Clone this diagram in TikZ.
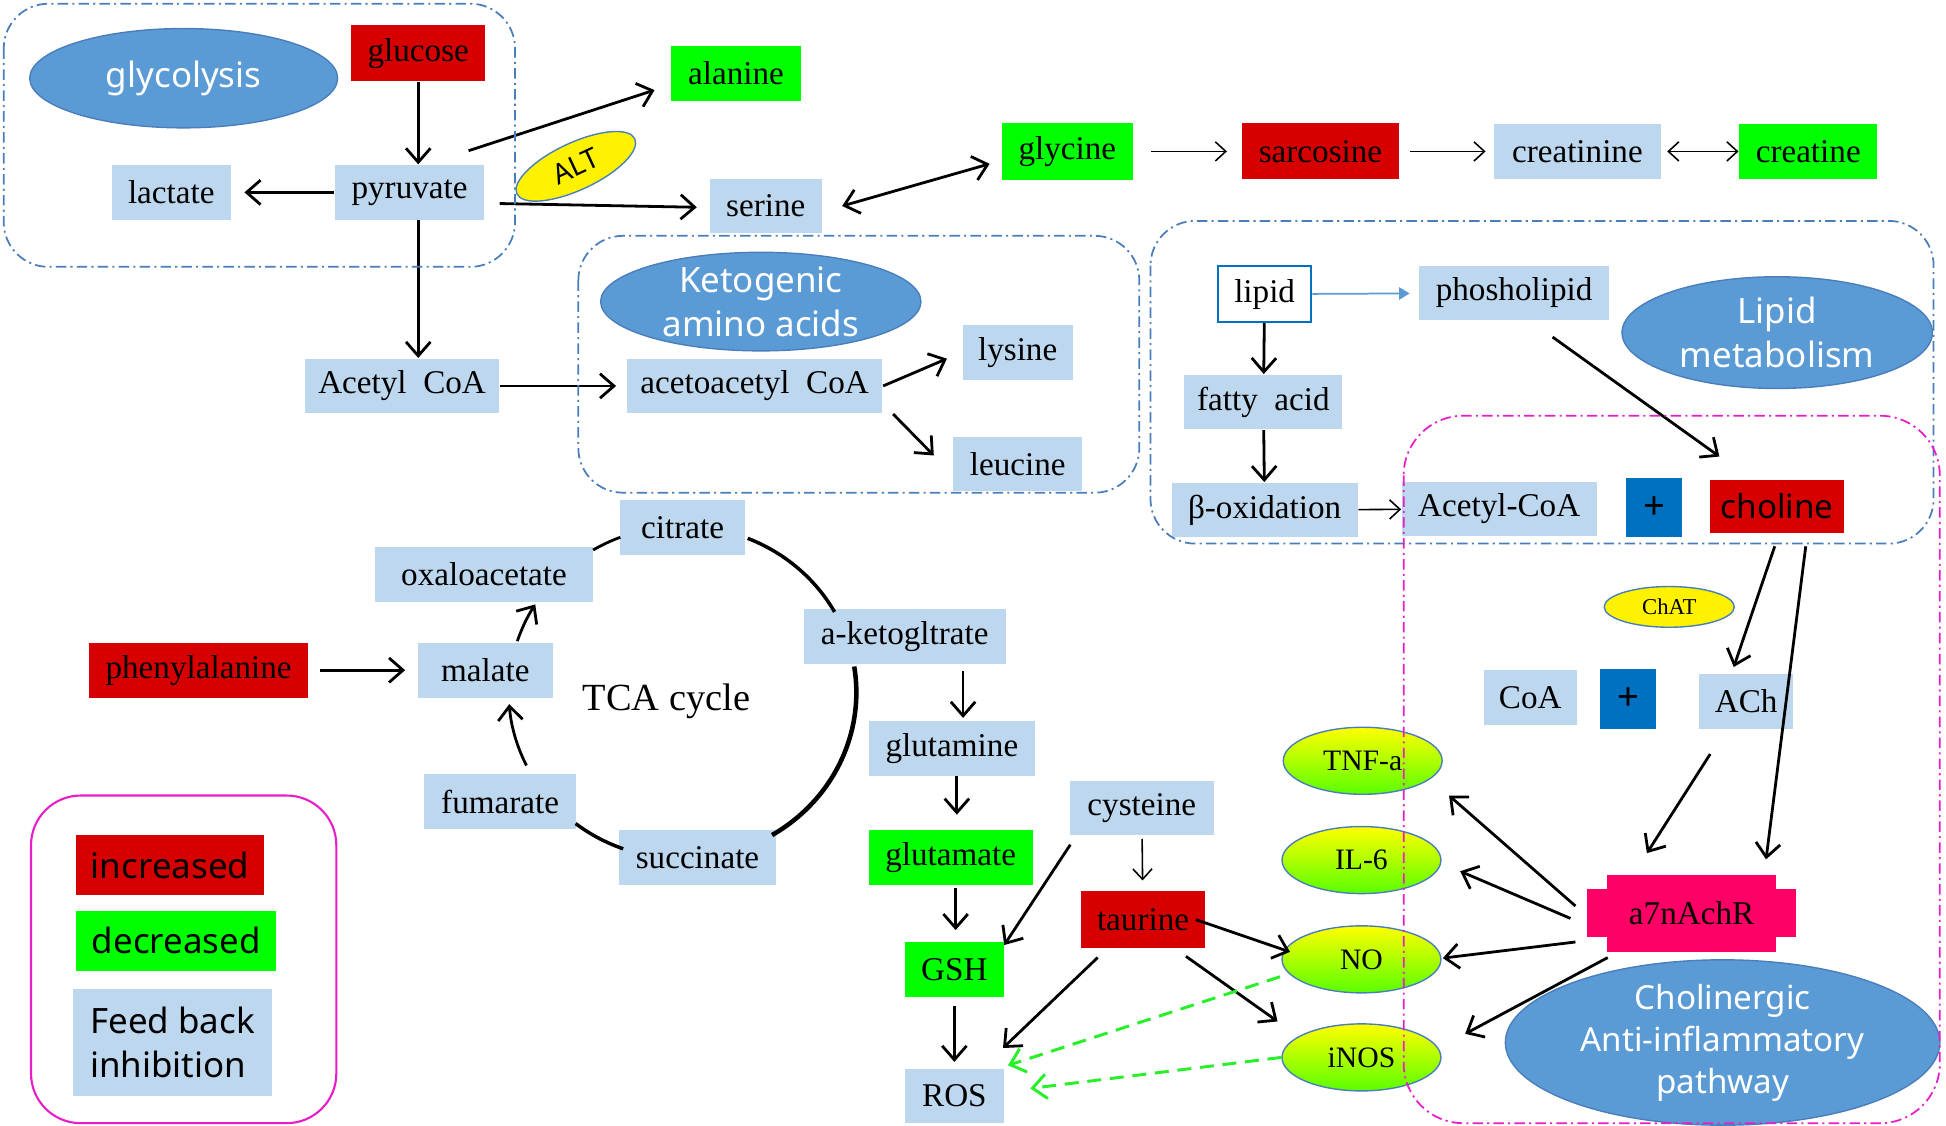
\documentclass[tikz,border=0pt]{standalone}
\usepackage{fontspec}
\setmainfont{Liberation Serif}
\newfontfamily\yahei{Noto Sans}
\usepackage{xcolor}
\usepackage{tikz}
\usetikzlibrary{shapes.geometric,arrows.meta}

\definecolor{upred}{RGB}{214,0,0}
\definecolor{downgreen}{RGB}{0,255,0}
\definecolor{feedblue}{RGB}{189,215,238}
\definecolor{ovalblue}{RGB}{91,155,213}
\definecolor{plusblue}{RGB}{0,112,192}
\definecolor{framegray}{RGB}{74,126,187}
\definecolor{framepink}{RGB}{232,28,200}
\definecolor{receptor}{RGB}{255,0,102}
\definecolor{dashgreen}{RGB}{40,240,40}
\definecolor{cytogreen}{RGB}{90,255,0}

\begin{document}
\begin{tikzpicture}[
  x=0.0125cm, y=-0.0125cm,
  box/.style={
    rectangle,
    fill=feedblue,
    minimum height=0.55cm,
    inner sep=0pt,
    font=\fontsize{9.5}{11}\selectfont
  },
  incbox/.style={box, fill=upred},
  decbox/.style={box, fill=downgreen},
  plusbox/.style={rectangle, fill=plusblue, minimum width=0.5625cm, minimum height=0.6cm, inner sep=0pt, font=\yahei\fontsize{11}{12}\selectfont},
  oval/.style={
    ellipse,
    fill=ovalblue,
    draw=framegray,
    line width=0.4pt,
    inner sep=0pt,
    text=white,
    align=center,
    font=\yahei\fontsize{10}{12.5}\selectfont
  },
  cyto/.style={ellipse, draw=framegray, top color=yellow, bottom color=cytogreen, minimum width=1.6cm, minimum height=0.675cm, inner sep=0pt, font=\fontsize{8.5}{10}\selectfont},
  enzyme/.style={ellipse, fill=yellow, draw=framegray, inner sep=0pt},
  legendbox/.style={font=\yahei\fontsize{10}{12.4}\selectfont, inner sep=0pt},
  arrow/.style={-{Straight Barb[length=4pt,width=7pt]}, line width=0.8pt},
  twoway/.style={{Straight Barb[length=4pt,width=7pt]}-{Straight Barb[length=4pt,width=7pt]}, line width=0.8pt},
  thinarrow/.style={-{Straight Barb[length=3pt,width=5.5pt]}, line width=0.45pt},
  thintwoway/.style={{Straight Barb[length=3pt,width=5.5pt]}-{Straight Barb[length=3pt,width=5.5pt]}, line width=0.45pt},
  bluearrow/.style={-{Triangle[length=3pt,width=3.5pt]}, draw=ovalblue, fill=ovalblue, line width=0.5pt},
  inhibit/.style={-{Straight Barb[length=4pt,width=7pt]}, draw=dashgreen, line width=0.85pt, dash pattern=on 4pt off 2.5pt},
  region/.style={draw=framegray, line width=0.5pt, dash pattern=on 3pt off 1.2pt on 0.6pt off 1.2pt, rounded corners=0.45cm}
]
  \useasboundingbox (0,0) rectangle (1568,907);

  \node[oval, minimum width=3.1cm, minimum height=1cm] (glycolysis) at (148,63) {glycolysis};
  \node[incbox, minimum width=1.35cm, minimum height=0.5625cm] (glucose) at (337,43) {glucose};
  \node[decbox, minimum width=1.3cm] (alanine) at (593,59) {alanine};
  \node[box, minimum width=1.2cm] (lactate) at (138,155) {lactate};
  \node[box, minimum width=1.5cm] (pyruvate) at (330,155) {pyruvate};
  \node[enzyme, rotate=25, minimum width=1.31cm, minimum height=0.475cm, font=\yahei\fontsize{8}{9}\selectfont] (alt) at (464,134) {ALT};
  \node[box, minimum width=1.125cm] (serine) at (617,166) {serine};
  \node[decbox, minimum width=1.325cm, minimum height=0.575cm] (glycine) at (860,122) {glycine};
  \node[incbox, minimum width=1.59cm, minimum height=0.5625cm] (sarcosine) at (1064,122) {sarcosine};
  \node[box, minimum width=1.675cm] (creatinine) at (1271,122) {creatinine};
  \node[decbox, minimum width=1.39cm] (creatine) at (1457,122) {creatine};

  \node[oval, minimum width=3.225cm, minimum height=0.95cm] (keto) at (613,243) {Ketogenic\\amino acids};
  \node[box, minimum width=1.95cm] (acetylcoa) at (324,311) {Acetyl~~CoA};
  \node[box, minimum width=2.575cm] (acetoacetyl) at (608,311) {acetoacetyl~~CoA};
  \node[box, minimum width=1.11cm] (lysine) at (820,284) {lysine};
  \node[box, minimum width=1.3cm] (leucine) at (820,374) {leucine};

  \node[box, fill=white, draw=plusblue, line width=0.6pt, minimum width=0.94cm, minimum height=0.5625cm] (lipid) at (1019,237) {lipid};
  \node[box, minimum width=1.91cm] (phosholipid) at (1220,236) {phosholipid};
  \node[oval, minimum width=3.125cm, minimum height=1.125cm] (lipidmet) at (1432,268) {Lipid\\metabolism};
  \node[box, minimum width=1.59cm] (fattyacid) at (1018,324) {fatty~~acid};
  \node[box, minimum width=1.875cm] (betaox) at (1019,411) {β-oxidation};
  \node[box, minimum width=1.96cm] (acetylcoa2) at (1208,410) {Acetyl-CoA};
  \node[plusbox] (plusA) at (1333,409) {+};
  \node[incbox, minimum width=1.35cm, minimum height=0.54cm, font=\yahei\fontsize{9.5}{11}\selectfont] (choline) at (1432,408) {choline};

  \node[enzyme, minimum width=1.31cm, minimum height=0.41cm, font=\fontsize{6.5}{7}\selectfont] (chat) at (1345,489) {ChAT};
  \node[box, minimum width=0.94cm] (coa) at (1233,562) {CoA};
  \node[plusbox] (plusB) at (1312,563) {+};
  \node[box, minimum width=0.95cm] (ach) at (1407,565) {ACh};
  \fill[receptor] (1279,716) rectangle (1447,755);
  \node[rectangle, fill=receptor, minimum width=1.7cm, minimum height=0.775cm, inner sep=0pt, font=\fontsize{9.5}{11}\selectfont] (a7) at (1363,736) {a7nAchR};
  \node[cyto] (tnf) at (1098,613) {TNF-a};
  \node[cyto] (il6) at (1097,693) {IL-6};
  \node[cyto] (no) at (1097,773) {NO};
  \node[cyto] (inos) at (1097,852) {iNOS};
  \node[oval, minimum width=4.375cm, minimum height=1.575cm, font=\yahei\fontsize{9.5}{12}\selectfont] (cholinergic) at (1388,840) {Cholinergic\\Anti-inflammatory\\pathway};

  \node[box, minimum width=1.26cm] (citrate) at (550,425) {citrate};
  \node[box, minimum width=2.19cm] (oxalo) at (390,463) {oxaloacetate};
  \node[box, minimum width=2.03cm] (aketo) at (729,513) {a-ketogltrate};
  \node[box, minimum width=1.36cm] (malate) at (391,540) {malate};
  \node[font=\fontsize{11}{13}\selectfont] (tca) at (537,565) {TCA cycle};
  \node[box, minimum width=1.525cm] (fumarate) at (403,646) {fumarate};
  \node[box, minimum width=1.575cm] (succinate) at (562,691) {succinate};
  \node[incbox, minimum width=2.21cm] (phe) at (160,540) {phenylalanine};
  \coordinate (tcacentre) at (550,558);

  \node[box, minimum width=1.675cm] (glutamine) at (767,603) {glutamine};
  \node[decbox, minimum width=1.65cm] (glutamate) at (766,691) {glutamate};
  \node[decbox, minimum width=0.99cm] (gsh) at (769,781) {GSH};
  \node[box, minimum width=0.99cm] (ros) at (769,883) {ROS};
  \node[box, minimum width=1.45cm] (cysteine) at (920,651) {cysteine};
  \node[incbox, minimum width=1.25cm, minimum height=0.575cm] (taurine) at (921,741) {taurine};

  \node[incbox, legendbox, minimum width=1.89cm, minimum height=0.6cm] (keyinc) at (137,697) {increased};
  \node[decbox, legendbox, minimum width=2.01cm, minimum height=0.6cm] (keydec) at (142,758) {decreased};
  \node[box, legendbox, align=left, minimum width=2cm, minimum height=1.075cm] (keyfeed) at (139,840) {Feed back\\inhibition};

  \draw[arrow] (glucose) -- (glucose |- pyruvate.north);
  \draw[arrow, shorten >=0.13cm] (pyruvate) -- (lactate);
  \draw[arrow] ([shift={(-13,-11)}]pyruvate.north east) -- ([shift={(-13,-9)}]alanine.south west);
  \draw[arrow] ([shift={(12,9)}]pyruvate.east) -- ([shift={(-10,1)}]serine.west);
  \draw[twoway] ([shift={(16,0)}]serine.east) -- ([shift={(-9,10)}]glycine.west);
  \draw[thinarrow, shorten <=0.175cm, shorten >=0.14cm] (glycine) -- (sarcosine);
  \draw[thinarrow, shorten <=0.1cm, shorten >=0.08cm] (sarcosine) -- (creatinine);
  \draw[thintwoway, shorten <=0.06cm] (creatinine) -- (creatine);
  \draw[arrow] (glucose |- pyruvate.south) -- (glucose |- acetylcoa.north);
  \draw[arrow, shorten >=0.1cm] (acetylcoa) -- (acetoacetyl);
  \draw[arrow] (acetoacetyl.east) -- ([shift={(-12,5)}]lysine.west);
  \draw[arrow] ([shift={(8,0)}]acetoacetyl.south east) -- ([shift={(-15,-7)}]leucine.west);

  \draw[bluearrow, shorten >=0.09cm] (lipid) -- (phosholipid);
  \draw[arrow] (lipid) -- (fattyacid);
  \draw[arrow] (fattyacid) -- (betaox);
  \draw[thinarrow] (betaox) -- (acetylcoa2);
  \draw[arrow] ([shift={(31,13)}]phosholipid.south) -- ([shift={(8,-18)}]choline.north west);
  \draw[arrow] ([shift={(-2,10)}]choline.south) -- ([shift={(-10,-5)}]ach.north);
  \draw[arrow] ([shift={(23,10)}]choline.south) -- ([shift={(60,-12)}]a7.north);
  \draw[arrow] ([shift={(-29,20)}]ach.south) -- ([shift={(-36,-17)}]a7.north);
  \draw[arrow] ([shift={(-25,-6)}]a7.west) -- ([shift={(5,28)}]tnf.east);
  \draw[arrow] ([shift={(-29,4)}]a7.west) -- ([shift={(15,9)}]il6.east);
  \draw[arrow] ([shift={(-25,23)}]a7.west) -- ([shift={(1,-1)}]no.east);
  \draw[arrow] ([shift={(1,4)}]a7.south west) -- ([shift={(19,-19)}]inos.east);

  \draw[line width=0.8pt] (tcacentre) ++(-121:140 and 134) arc[start angle=-121, end angle=-111, x radius=140, y radius=134];
  \draw[line width=1pt] (tcacentre) ++(-68:140 and 134) arc[start angle=-68, end angle=-29, x radius=140, y radius=134];
  \draw[line width=1.3pt] (tcacentre) ++(-9:140 and 134) arc[start angle=-9, end angle=59, x radius=140, y radius=134];
  \draw[line width=1pt] (tcacentre) ++(110:140 and 134) arc[start angle=110, end angle=128, x radius=140, y radius=134];
  \draw[arrow] (tcacentre) ++(154:140 and 134) arc[start angle=154, end angle=176, x radius=140, y radius=134];
  \draw[arrow] (tcacentre) ++(198:140 and 134) arc[start angle=198, end angle=212, x radius=140, y radius=134];
  \draw[arrow, shorten <=0.11cm, shorten >=0.12cm] (phe) -- (malate);

  \draw[arrow] ([shift={(47,5)}]aketo.south) -- ([shift={(9,-2)}]glutamine.north);
  \draw[arrow] ([shift={(4,0)}]glutamine.south) -- ([shift={(5,-12)}]glutamate.north);
  \draw[arrow] ([shift={(4,2)}]glutamate.south) -- ([shift={(1,-9)}]gsh.north);
  \draw[arrow, shorten <=0.09cm, shorten >=0.06cm] (gsh) -- (ros);
  \draw[arrow] ([shift={(1,7)}]cysteine.south west) -- ([shift={(0,3)}]gsh.north east);
  \draw[thinarrow, shorten <=0.03cm, shorten >=0.1cm] (cysteine) -- (taurine);
  \draw[arrow] ([shift={(-8,0)}]taurine.east) -- ([shift={(7,-6)}]no.west);
  \draw[arrow] ([shift={(14,7)}]taurine.south west) -- ([shift={(-1,-16)}]ros.north east);
  \draw[arrow] ([shift={(-16,6)}]taurine.south east) -- ([shift={(-3,-29)}]inos.west);
  \draw[inhibit] ([shift={(-1,14)}]no.west) -- ([shift={(3,-2)}]ros.north east);
  \draw[inhibit] (inos.west) -- ([shift={(21,-6)}]ros.east);

  \draw[region] (3,3) rectangle (415,215);
  \draw[region] (466,190) rectangle (918,397);
  \draw[region] (927,178) rectangle (1558,438);
  \draw[region, draw=framepink, rounded corners=0.6cm] (1131,335) rectangle (1563,905);
  \draw[framepink, line width=0.6pt, rounded corners=0.5cm] (25,641) rectangle (271,905);
\end{tikzpicture}
\end{document}
